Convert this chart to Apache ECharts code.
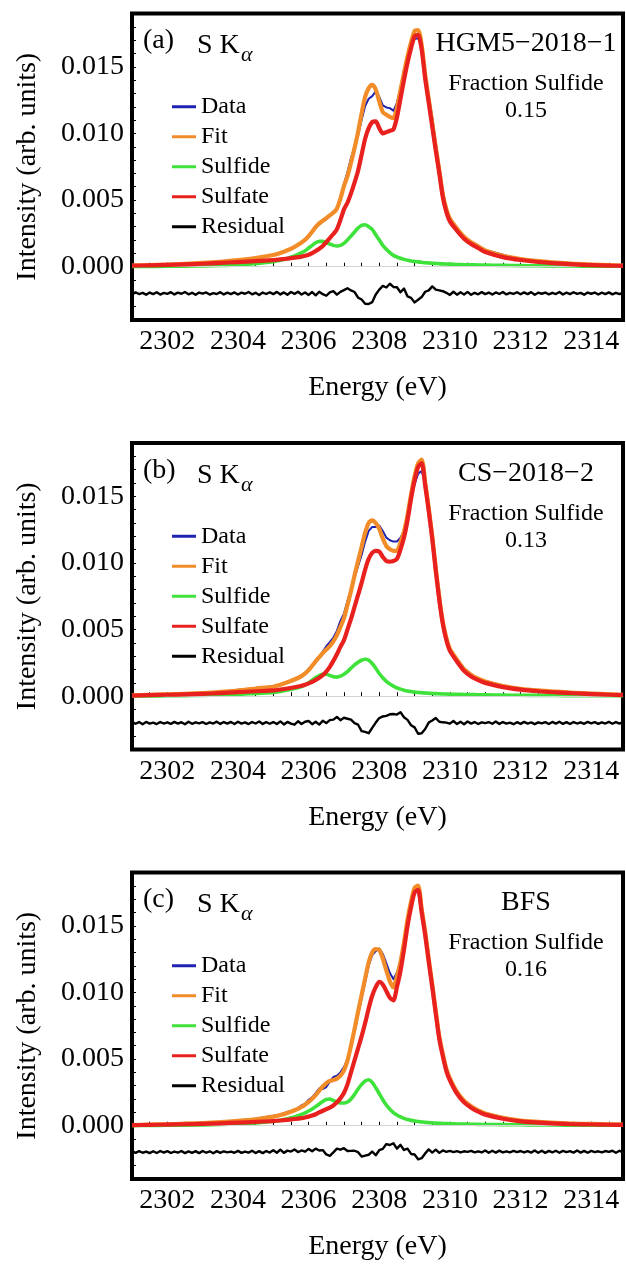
<!DOCTYPE html>
<html>
<head>
<meta charset="utf-8">
<script src="https://cdn.jsdelivr.net/npm/echarts@6/dist/echarts.min.js"></script>
<style>
  html, body { margin: 0; padding: 0; background: #fff; }
  #chart { width: 626px; height: 1266px; }
</style>
</head>
<body>
<div id="chart"></div>
<script>
// Intensities below are stored in units of 1e-4 (arb. units).
const UNIT = 1e-4;

// Energy grid (eV) for data, fit and components
const energy = [
  2301, 2301.5, 2302, 2302.5, 2303, 2303.5, 2304, 2304.5,
  2305, 2305.2, 2305.4, 2305.6,
  2305.8, 2305.9,
  2306.0, 2306.1, 2306.2, 2306.3, 2306.4, 2306.5, 2306.6, 2306.7, 2306.8, 2306.9,
  2307.0, 2307.1, 2307.2, 2307.3, 2307.4, 2307.5, 2307.6, 2307.7, 2307.8, 2307.9,
  2308.0, 2308.1, 2308.2, 2308.3, 2308.4, 2308.5, 2308.6, 2308.7, 2308.8, 2308.9,
  2309.0, 2309.1, 2309.2, 2309.3, 2309.4, 2309.5, 2309.6, 2309.7, 2309.8, 2309.9,
  2310.0,
  2310.2, 2310.4, 2310.6, 2310.8,
  2311, 2311.5, 2312, 2312.5, 2313, 2313.5, 2314, 2314.5,
  2314.9
];

// Energy grid (eV) for the residual traces
const energyFine = [
  2301.0, 2301.1, 2301.2, 2301.3, 2301.4, 2301.5, 2301.6, 2301.7, 2301.8, 2301.9,
  2302.0, 2302.1, 2302.2, 2302.3, 2302.4, 2302.5, 2302.6, 2302.7, 2302.8, 2302.9,
  2303.0, 2303.1, 2303.2, 2303.3, 2303.4, 2303.5, 2303.6, 2303.7, 2303.8, 2303.9,
  2304.0, 2304.1, 2304.2, 2304.3, 2304.4, 2304.5, 2304.6, 2304.7, 2304.8, 2304.9,
  2305.0, 2305.1, 2305.2, 2305.3, 2305.4, 2305.5, 2305.6, 2305.7, 2305.8, 2305.9,
  2306.0, 2306.1, 2306.2, 2306.3, 2306.4, 2306.5, 2306.6, 2306.7, 2306.8, 2306.9,
  2307.0, 2307.1, 2307.2, 2307.3, 2307.4, 2307.5, 2307.6, 2307.7, 2307.8, 2307.9,
  2308.0, 2308.1, 2308.2, 2308.3, 2308.4, 2308.5, 2308.6, 2308.7, 2308.8, 2308.9,
  2309.0, 2309.1, 2309.2, 2309.3, 2309.4, 2309.5, 2309.6, 2309.7, 2309.8, 2309.9,
  2310.0, 2310.1, 2310.2, 2310.3, 2310.4, 2310.5, 2310.6, 2310.7, 2310.8, 2310.9,
  2311.0, 2311.1, 2311.2, 2311.3, 2311.4, 2311.5, 2311.6, 2311.7, 2311.8, 2311.9,
  2312.0, 2312.1, 2312.2, 2312.3, 2312.4, 2312.5, 2312.6, 2312.7, 2312.8, 2312.9,
  2313.0, 2313.1, 2313.2, 2313.3, 2313.4, 2313.5, 2313.6, 2313.7, 2313.8, 2313.9,
  2314.0, 2314.1, 2314.2, 2314.3, 2314.4, 2314.5, 2314.6, 2314.7, 2314.8, 2314.9
];

// Axis tick labels
const energyTickLabels = ['2302', '2304', '2306', '2308', '2310', '2312', '2314'];
const intensityTickLabels = ['0.000', '0.005', '0.010', '0.015'];

// ---------- (a) HGM5-2018-1 ----------
const dataA = [
  0.6, 1.3, 1.5, 2.3, 2.6, 4.0, 4.7, 6.9,
  8.5, 10.8, 12.0, 15.4,
  17.6, 20.8,
  22.4, 26.8, 29.0, 32.0, 34.0, 35.5, 38.8, 41.5, 42.8, 51.5,
  62.0, 71.0, 81.5, 89.5, 98.5, 110.0, 120.5, 126.0, 128.0, 131.5,
  127.5, 121.0, 119.5, 119.0, 117.0, 123.0, 133.8, 148.0, 156.0, 164.5,
  171.0, 171.5, 164.3, 144.5, 128.8, 112.0, 93.0, 73.5, 56.5, 44.0,
  35.4,
  29.5, 22.2, 18.9, 14.8,
  12.6, 8.9, 5.4, 4.6, 3.0, 2.6, 1.4, 1.5,
  0.8
];
const fitA = [
  0.9, 1.2, 1.6, 2.1, 2.8, 3.7, 4.9, 6.5,
  8.8, 10.3, 12.3, 14.8,
  18.1, 20.2,
  23.0, 26.2, 29.8, 32.5, 34.5, 36.5, 38.5, 40.5, 43.5, 51.0,
  60.5, 68.0, 78.0, 89.0, 101.0, 115.0, 127.5, 134.0, 136.5, 133.0,
  124.0, 116.0, 114.0, 112.5, 111.5, 119.3, 132.3, 145.5, 157.8, 168.3,
  176.9, 177.6, 166.3, 144.0, 125.8, 107.6, 89.4, 72.2, 54.1, 43.0,
  35.9,
  28.7, 22.5, 18.4, 15.3,
  12.2, 8.2, 5.8, 4.2, 3.1, 2.2, 1.6, 1.2,
  0.9
];
const sulfideA = [
  0.1, 0.2, 0.3, 0.4, 0.6, 0.9, 1.4, 2.3,
  3.8, 4.8, 6.2, 8.0,
  10.5, 12.0,
  14.0, 16.0, 18.0, 19.0, 19.0, 18.0, 17.0, 16.0, 15.5, 16.0,
  17.5, 20.0, 23.0, 26.0, 29.0, 31.0, 31.5, 30.0, 28.0, 24.0,
  20.0, 16.0, 13.0, 10.5, 8.5, 7.3, 6.3, 5.5, 4.8, 4.3,
  3.9, 3.6, 3.3, 3.0, 2.8, 2.6, 2.4, 2.2, 2.1, 2.0,
  1.9,
  1.7, 1.5, 1.4, 1.3,
  1.2, 1.0, 0.8, 0.7, 0.6, 0.5, 0.4, 0.4,
  0.3
];
const sulfateA = [
  0.8, 1.0, 1.3, 1.7, 2.2, 2.8, 3.5, 4.2,
  5.0, 5.5, 6.1, 6.8,
  7.6, 8.2,
  9.0, 10.2, 11.8, 13.5, 15.5, 18.5, 21.5, 24.5, 28.0, 35.0,
  43, 48, 55, 63, 72, 84, 96, 104, 108.5, 109,
  104, 100, 101, 102, 103, 112, 126, 140, 153, 164,
  173, 174, 163, 141, 123, 105, 87, 70, 52, 41,
  34,
  27, 21, 17, 14,
  11, 7.2, 5.0, 3.5, 2.5, 1.7, 1.2, 0.8,
  0.6
];
const residualA = [
  -20.8, -19.3, -20.5, -19.6, -21.0, -19.4, -20.6, -19.2, -20.9, -19.7,
  -20.4, -19.1, -20.8, -19.5, -20.3, -19.0, -20.7, -19.6, -21.1, -19.4,
  -20.2, -19.3, -20.9, -19.8, -20.5, -19.1, -20.8, -19.5, -20.6, -19.3,
  -20.9, -19.5, -20.3, -19.0, -20.7, -19.6, -21.2, -19.4, -20.5, -19.2,
  -20.6, -18.9, -20.8, -19.3, -21.0, -19.0, -20.4, -18.8, -20.9, -19.4,
  -21.2, -19.0, -21.5, -18.8, -20.6, -21.8, -19.2, -18.4, -21.0, -18.9,
  -17.6, -16.2, -17.8, -19.0, -23.2, -24.6, -27.8, -28.0, -26.6, -20.8,
  -17.2, -14.4, -15.6, -12.8, -15.2, -15.4, -19.2, -16.4, -22.3, -23.4,
  -26.8, -24.8, -22.8, -18.8, -17.8, -14.8, -17.2, -17.8, -18.4, -19.6,
  -21.2, -18.8, -21.0, -19.2, -20.8, -18.9, -21.1, -19.6, -20.7, -19.1,
  -20.6, -19.4, -20.9, -19.3, -20.5, -19.0, -20.8, -19.6, -20.4, -19.2,
  -20.7, -19.3, -20.6, -19.1, -21.0, -19.5, -20.3, -19.4, -20.8, -19.6,
  -20.5, -19.0, -20.9, -19.5, -20.6, -19.2, -20.4, -19.7, -21.0, -19.4,
  -20.3, -19.4, -20.9, -19.5, -20.6, -19.3, -20.8, -19.6, -20.5, -19.8
];

// ---------- (b) CS-2018-2 ----------
const dataB = [
  0.9, 0.7, 1.6, 1.5, 2.7, 3.0, 4.8, 5.6,
  7.6, 8.3, 11.0, 12.2,
  15.8, 16.8,
  20.5, 22.4, 27.0, 29.8, 33.5, 37.5, 40.5, 44.0, 49.0, 56.5,
  62.0, 71.5, 80.0, 89.0, 97.5, 106.0, 116.0, 124.0, 127.0, 127.0,
  128.0, 124.0, 119.0, 117.0, 116.0, 116.0, 119.0, 124.0, 134.0, 149.0,
  159.0, 167.0, 169.0, 159.5, 143.0, 122.5, 98.5, 75.5, 56.5, 44.3,
  35.0,
  28.0, 20.9, 16.6, 12.8,
  11.5, 8.1, 5.3, 4.6, 3.2, 2.9, 1.8, 1.6,
  0.9
];
const fitB = [
  0.6, 1.0, 1.4, 1.8, 2.4, 3.2, 4.3, 5.8,
  7.1, 8.6, 10.4, 12.5,
  15.1, 17.1,
  19.6, 22.8, 26.2, 29.3, 32.3, 35.0, 37.6, 41.1, 45.8, 52.0,
  58.5, 68.5, 79.0, 90.5, 101.5, 112.0, 122.7, 130.0, 132.0, 130.0,
  125.5, 118.3, 112.7, 110.2, 109.1, 109.3, 115.3, 123.5, 135.9, 151.5,
  165.1, 174.8, 177.6, 160.4, 141.2, 120.0, 95.9, 73.8, 55.7, 43.6,
  35.5,
  27.4, 20.3, 16.0, 13.1,
  11.0, 7.6, 5.6, 4.3, 3.4, 2.6, 2.0, 1.4,
  1.1
];
const sulfideB = [
  0.1, 0.2, 0.3, 0.4, 0.6, 0.9, 1.3, 2.1,
  2.8, 3.6, 4.6, 5.8,
  7.3, 8.5,
  10.0, 12.0, 14.0, 15.5, 16.5, 16.5, 15.6, 14.6, 14.3, 15.0,
  16.5, 18.5, 21.0, 23.5, 25.5, 27.0, 27.7, 27.0, 24.5, 21.0,
  17.0, 13.8, 11.2, 9.2, 7.6, 6.3, 5.3, 4.5, 3.9, 3.5,
  3.1, 2.8, 2.6, 2.4, 2.2, 2.0, 1.9, 1.8, 1.7, 1.6,
  1.5,
  1.4, 1.3, 1.2, 1.1,
  1.0, 0.8, 0.7, 0.6, 0.5, 0.4, 0.4, 0.3,
  0.3
];
const sulfateB = [
  0.5, 0.8, 1.1, 1.4, 1.8, 2.3, 3.0, 3.7,
  4.3, 5.0, 5.8, 6.7,
  7.8, 8.6,
  9.6, 10.8, 12.2, 13.8, 15.8, 18.5, 22.0, 26.5, 31.5, 37.0,
  42, 50, 58, 67, 76, 85, 95, 103, 107.5, 109,
  108.5, 104.5, 101.5, 101, 101.5, 103, 110, 119, 132, 148,
  162, 172, 175, 158, 139, 118, 94, 72, 54, 42,
  34,
  26, 19, 14.8, 12,
  10, 6.8, 4.9, 3.7, 2.9, 2.2, 1.6, 1.1,
  0.8
];
const residualB = [
  -19.2, -20.7, -19.4, -21.0, -19.3, -20.6, -19.8, -20.9, -19.4, -20.5,
  -19.6, -20.8, -19.3, -20.6, -19.5, -21.0, -19.2, -20.7, -19.6, -20.4,
  -19.5, -20.9, -19.6, -20.5, -19.1, -20.8, -19.4, -20.6, -19.3, -20.9,
  -19.2, -20.6, -19.7, -20.9, -19.4, -20.5, -19.0, -20.8, -19.5, -20.7,
  -19.4, -20.9, -18.9, -21.2, -19.3, -20.6, -21.4, -18.8, -20.9, -19.2,
  -18.6, -21.0, -19.2, -21.3, -18.4, -20.2, -18.0, -17.6, -15.6, -18.0,
  -16.2, -16.9, -17.6, -20.2, -21.4, -26.2, -26.8, -27.8, -23.8, -19.8,
  -16.4, -15.2, -14.8, -13.6, -13.4, -13.8, -12.0, -15.8, -17.8, -21.8,
  -23.4, -28.2, -27.8, -24.6, -19.8, -18.2, -16.4, -19.2, -19.6, -19.8,
  -20.6, -18.6, -20.9, -19.2, -21.0, -19.0, -20.6, -19.4, -20.9, -19.6,
  -20.2, -19.5, -20.7, -19.0, -20.8, -19.4, -20.6, -19.8, -21.0, -19.5,
  -20.8, -19.3, -20.6, -19.7, -21.0, -19.6, -20.4, -19.5, -20.9, -19.3,
  -20.6, -19.2, -20.8, -19.5, -20.9, -19.4, -20.5, -19.6, -20.7, -19.3,
  -20.4, -19.5, -20.8, -19.6, -20.5, -19.3, -20.7, -19.4, -20.6, -19.5
];

// ---------- (c) BFS ----------
const dataC = [
  0.7, 0.6, 1.4, 1.3, 2.4, 2.5, 3.9, 5.3,
  7.4, 8.5, 10.4, 11.5,
  15.3, 16.3,
  19.5, 21.3, 24.5, 28.0, 27.5, 29.0, 33.0, 36.5, 37.5, 40.0,
  44.0, 50.0, 60.5, 70.5, 83.0, 95.5, 107.5, 120.0, 128.0, 131.0,
  133.0, 129.0, 122.0, 114.5, 110.0, 115.0, 123.5, 138.0, 153.0, 166.0,
  175.5, 175.5, 158.0, 143.0, 125.5, 107.0, 86.5, 67.3, 53.5, 43.2,
  35.0,
  25.8, 18.5, 15.1, 11.2,
  9.6, 6.3, 3.7, 3.2, 1.9, 1.8, 1.1, 1.2,
  0.8
];
const fitC = [
  0.5, 0.8, 1.1, 1.5, 2.0, 2.7, 3.6, 4.8,
  6.8, 8.0, 9.6, 11.6,
  14.2, 15.8,
  17.8, 20.2, 22.9, 26.3, 29.4, 32.0, 33.6, 34.2, 35.3, 37.5,
  41.5, 48.8, 60.0, 72.5, 85.5, 98.0, 110.5, 122.5, 130.0, 132.5,
  132.0, 125.5, 116.5, 108.3, 103.8, 112.0, 122.6, 137.5, 154.6, 168.0,
  178.5, 180.1, 162.8, 145.5, 125.3, 106.1, 85.9, 66.8, 53.7, 42.6,
  35.5,
  25.3, 18.7, 14.6, 11.5,
  9.2, 6.0, 3.9, 2.9, 2.1, 1.5, 1.3, 1.0,
  0.9
];
const sulfideC = [
  0.1, 0.2, 0.3, 0.4, 0.6, 0.9, 1.3, 2.0,
  3.3, 4.1, 5.2, 6.6,
  8.5, 9.6,
  11.0, 12.6, 14.3, 16.3, 18.2, 19.6, 20.0, 19.0, 17.8, 17.0,
  17.0, 17.8, 20.0, 23.5, 27.5, 31.0, 33.5, 34.5, 32.5, 28.5,
  24.0, 19.5, 15.5, 12.3, 9.8, 8.0, 6.6, 5.5, 4.6, 4.0,
  3.5, 3.1, 2.8, 2.5, 2.3, 2.1, 1.9, 1.8, 1.7, 1.6,
  1.5,
  1.3, 1.2, 1.1, 1.0,
  0.9, 0.8, 0.7, 0.6, 0.5, 0.4, 0.4, 0.3,
  0.3
];
const sulfateC = [
  0.4, 0.6, 0.8, 1.1, 1.4, 1.8, 2.3, 2.8,
  3.5, 3.9, 4.4, 5.0,
  5.7, 6.2,
  6.8, 7.6, 8.6, 10.0, 11.2, 12.4, 13.6, 15.2, 17.5, 20.5,
  24.5, 31, 40, 49, 58, 67, 77, 88, 97.5, 104,
  108, 106, 101, 96, 94, 104, 116, 132, 150, 164,
  175, 177, 160, 143, 123, 104, 84, 65, 52, 41,
  34,
  24, 17.5, 13.5, 10.5,
  8.3, 5.2, 3.2, 2.3, 1.6, 1.1, 0.9, 0.7,
  0.6
];
const residualC = [
  -19.0, -20.4, -19.1, -20.3, -19.4, -20.6, -19.2, -20.5, -19.0, -20.2,
  -19.1, -20.5, -19.4, -20.2, -19.0, -20.6, -19.3, -20.4, -19.1, -20.6,
  -19.0, -20.3, -19.2, -20.7, -19.1, -20.4, -19.2, -20.0, -19.4, -20.3,
  -18.9, -20.4, -19.4, -20.2, -18.8, -20.5, -19.1, -20.6, -19.0, -20.2,
  -18.4, -20.3, -18.0, -20.4, -18.7, -19.4, -17.9, -19.8, -18.6, -19.5,
  -17.4, -19.2, -17.2, -18.6, -18.3, -21.6, -22.6, -20.0, -17.2, -18.0,
  -16.9, -19.0, -18.9, -18.8, -19.9, -23.2, -22.4, -21.8, -19.4, -22.2,
  -18.4, -17.4, -13.8, -14.5, -13.2, -17.2, -14.4, -18.2, -17.2, -21.2,
  -21.6, -25.2, -24.4, -20.8, -17.8, -20.2, -18.0, -20.4, -18.6, -19.6,
  -18.9, -19.8, -19.1, -20.1, -19.2, -19.6, -18.9, -20.0, -19.2, -20.1,
  -18.6, -20.3, -18.8, -20.2, -18.7, -20.1, -19.2, -20.0, -18.9, -19.8,
  -19.0, -20.1, -19.1, -20.2, -18.6, -20.3, -18.8, -20.4, -18.9, -20.0,
  -18.8, -20.3, -18.9, -19.8, -19.1, -20.2, -18.6, -20.2, -18.9, -20.3,
  -18.9, -19.8, -19.2, -20.0, -19.0, -19.6, -18.8, -20.3, -18.8, -20.1
];

const panelTags = ['(a)', '(b)', '(c)'];
const sampleNames = ['HGM5\u22122018\u22121', 'CS\u22122018\u22122', 'BFS'];
const fractionSulfide = ['0.15', '0.13', '0.16'];
const seriesNames = ['Data', 'Fit', 'Sulfide', 'Sulfate', 'Residual'];

const panels = [
  { data: dataA, fit: fitA, sulfide: sulfideA, sulfate: sulfateA, residual: residualA },
  { data: dataB, fit: fitB, sulfide: sulfideB, sulfate: sulfateB, residual: residualB },
  { data: dataC, fit: fitC, sulfide: sulfideC, sulfate: sulfateC, residual: residualC }
];

// ---------- layout and styling ----------
const FONT = '"Liberation Serif", "Times New Roman", serif';
const GRID_LEFT = 132;
const GRID_WIDTH = 491;
const GRID_HEIGHT = 306.5;
const PANEL_TOPS = [13.5, 443, 872.5];
const COLORS = { Data: '#1f22b0', Fit: '#f28c28', Sulfide: '#3ee23a', Sulfate: '#e8201e', Residual: '#000000' };
const WIDTHS = { Data: 2, Fit: 4.2, Sulfide: 3.6, Sulfate: 4.2, Residual: 2.4 };

function toPairs(xs, ys) {
  return xs.map((x, i) => [x, ys[i] * UNIT]);
}

const grid = [], xAxis = [], yAxis = [], series = [], legend = [], graphic = [];

panels.forEach((p, k) => {
  const top = PANEL_TOPS[k];
  grid.push({
    left: GRID_LEFT, top: top, width: GRID_WIDTH, height: GRID_HEIGHT,
    show: true, borderColor: '#000', borderWidth: 4, backgroundColor: 'transparent'
  });
  xAxis.push({
    type: 'value', gridIndex: k, min: 2301, max: 2314.9, interval: 0.5,
    name: 'Energy (eV)', nameLocation: 'middle', nameGap: 54,
    nameTextStyle: { fontFamily: FONT, fontSize: 28, color: '#000' },
    axisLine: { show: false },
    axisTick: { show: true, inside: true, length: 4, lineStyle: { color: '#000', width: 1 } },
    splitLine: { show: false },
    axisLabel: {
      fontFamily: FONT, fontSize: 28, color: '#000', margin: 8,
      formatter: v => {
        const s = String(Math.round(v));
        return (Math.abs(v - Math.round(v)) < 1e-6 && energyTickLabels.includes(s)) ? s : '';
      }
    }
  });
  yAxis.push({
    type: 'value', gridIndex: k, min: -0.004, max: 0.019, interval: 0.001,
    name: 'Intensity (arb. units)', nameLocation: 'middle', nameGap: 90,
    nameTextStyle: { fontFamily: FONT, fontSize: 28, color: '#000' },
    axisLine: { show: false },
    axisTick: { show: true, inside: true, length: 4, lineStyle: { color: '#000', width: 1 } },
    splitLine: { show: false },
    axisLabel: {
      fontFamily: FONT, fontSize: 28, color: '#000', margin: 8,
      formatter: v => {
        const s = (Math.round(v * 1000) / 1000).toFixed(3);
        return intensityTickLabels.includes(s) ? s : '';
      }
    }
  });

  const curves = {
    Data: toPairs(energy, p.data),
    Fit: toPairs(energy, p.fit),
    Sulfide: toPairs(energy, p.sulfide),
    Sulfate: toPairs(energy, p.sulfate),
    Residual: toPairs(energyFine, p.residual)
  };
  seriesNames.forEach((name, j) => {
    const s = {
      name: name, type: 'line', xAxisIndex: k, yAxisIndex: k,
      data: curves[name], showSymbol: false, symbol: 'none',
      smooth: (name === 'Data' || name === 'Residual') ? false : 0.25,
      lineStyle: { color: COLORS[name], width: WIDTHS[name], join: 'round' },
      itemStyle: { color: COLORS[name] },
      z: 2 + j, animation: false, silent: true
    };
    if (name === 'Data') {
      s.markLine = {
        silent: true, symbol: ['none', 'none'], label: { show: false },
        lineStyle: { color: '#d4d4d4', width: 1, type: 'solid' },
        data: [{ yAxis: 0 }, { yAxis: -0.002 }],
        animation: false
      };
    }
    series.push(s);
  });

  legend.push({
    orient: 'vertical', left: 172, top: top + 81.25,
    itemWidth: 24, itemHeight: 3, itemGap: 6, icon: 'rect', padding: 0,
    selectedMode: false,
    textStyle: { fontFamily: FONT, fontSize: 24, color: '#000', lineHeight: 22.5 },
    data: seriesNames
  });

  graphic.push(
    { type: 'text', x: 143, y: top + 27.5, style: { text: panelTags[k], font: '28px ' + FONT, fill: '#000', align: 'left', verticalAlign: 'middle' } },
    { type: 'text', x: 197, y: top + 32.5, style: { text: 'S K', font: '28px ' + FONT, fill: '#000', align: 'left', verticalAlign: 'middle' } },
    { type: 'text', x: 241, y: top + 42, style: { text: '\u03b1', font: 'italic 22px ' + FONT, fill: '#000', align: 'left', verticalAlign: 'middle' } },
    { type: 'text', x: 526, y: top + 30.5, style: { text: sampleNames[k], font: '28px ' + FONT, fill: '#000', align: 'center', verticalAlign: 'middle' } },
    { type: 'text', x: 526, y: top + 70.5, style: { text: 'Fraction Sulfide', font: '24px ' + FONT, fill: '#000', align: 'center', verticalAlign: 'middle' } },
    { type: 'text', x: 526, y: top + 97.5, style: { text: fractionSulfide[k], font: '24px ' + FONT, fill: '#000', align: 'center', verticalAlign: 'middle' } }
  );
});

const chart = echarts.init(document.getElementById('chart'), null, { renderer: 'canvas' });
chart.setOption({
  backgroundColor: '#fff',
  animation: false,
  grid: grid,
  xAxis: xAxis,
  yAxis: yAxis,
  legend: legend,
  graphic: graphic,
  series: series
});
</script>
</body>
</html>
